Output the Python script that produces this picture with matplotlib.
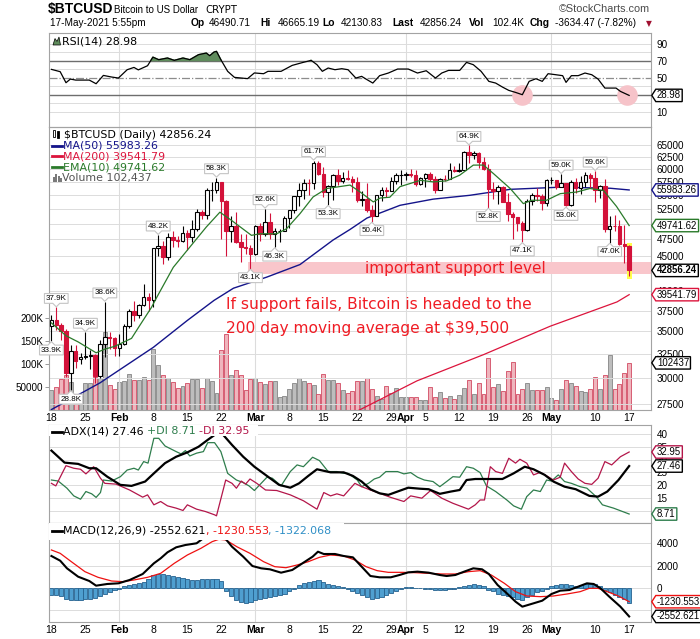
import numpy as np
import pandas as pd
import matplotlib
matplotlib.use("Agg")
import matplotlib.pyplot as plt
from matplotlib import font_manager
from matplotlib.path import Path
from matplotlib.patches import Rectangle, Polygon
from matplotlib.lines import Line2D
from matplotlib.ticker import FixedLocator, NullLocator, FuncFormatter
from matplotlib.transforms import blended_transform_factory

# ---------------- data ----------------
dates = pd.date_range("2021-01-18", "2021-05-17", freq="D")

# daily candles, thousands of USD
opens_k = [35.6, 36.3, 35.7, 35.1, 30.5, 32.8, 31.9, 32.2, 32.3, 32.4,
           30.2, 33.6, 34.4, 34.2, 33.1, 33.6, 35.6, 37.5, 36.9, 38.2,
           39.3, 38.8, 46.1, 46.5, 44.8, 47.9, 47.4, 47.2, 48.6, 47.9,
           49.2, 52.1, 51.6, 55.9, 56.0, 57.4, 54.0, 48.8, 49.7, 47.1,
           46.3, 46.2, 45.2, 49.6, 48.4, 50.4, 48.4, 48.8, 48.9, 51.0,
           52.3, 54.9, 55.9, 57.3, 57.2, 61.2, 59.0, 55.6, 56.8, 58.9,
           57.6, 58.3, 58.1, 57.4, 54.1, 54.3, 52.3, 51.3, 55.0, 55.9,
           55.8, 57.6, 58.8, 58.9, 59.0, 58.8, 57.1, 58.2, 59.1, 58.0,
           56.0, 58.1, 58.0, 59.8, 59.7, 59.9, 63.5, 62.9, 63.3, 61.5,
           60.1, 56.2, 55.7, 56.5, 53.8, 51.7, 51.1, 50.1, 49.0, 54.0,
           55.0, 54.9, 53.6, 57.8, 57.9, 56.6, 57.2, 53.2, 57.5, 56.4,
           57.4, 58.9, 58.3, 55.9, 56.7, 49.1, 49.7, 49.6, 46.8, 46.49071]
highs_k = [36.9, 37.9, 36.0, 35.3, 33.5, 33.4, 32.6, 34.9, 32.9, 32.5,
           34.0, 38.6, 34.9, 34.3, 34.7, 35.9, 37.7, 38.7, 38.3, 40.9,
           39.7, 46.2, 48.2, 47.3, 48.5, 48.9, 48.1, 49.7, 49.0, 50.6,
           52.5, 52.4, 56.3, 57.5, 58.3, 57.5, 54.2, 51.3, 52.0, 48.3,
           48.3, 46.6, 49.8, 50.2, 52.6, 51.8, 49.4, 49.2, 51.4, 52.4,
           54.9, 57.2, 58.1, 58.0, 61.7, 61.6, 60.5, 56.9, 59.0, 60.0,
           59.4, 59.8, 58.6, 58.4, 55.8, 57.2, 53.2, 55.1, 56.6, 56.6,
           58.4, 59.3, 59.8, 59.5, 60.0, 59.8, 58.5, 59.2, 59.5, 58.6,
           58.3, 58.8, 61.3, 60.7, 61.2, 63.8, 64.9, 63.8, 63.6, 62.5,
           61.0, 57.5, 57.0, 56.8, 55.4, 52.1, 51.2, 50.5, 54.3, 55.4,
           56.4, 55.2, 58.0, 58.4, 57.9, 59.0, 57.2, 57.8, 58.3, 58.6,
           59.5, 59.2, 59.6, 57.0, 58.0, 51.3, 51.5, 50.6, 49.8, 46.66519]
lows_k = [33.9, 35.2, 34.0, 30.1, 28.8, 31.0, 31.4, 31.9, 30.9, 29.5,
          30.0, 32.1, 33.0, 32.3, 32.3, 33.4, 35.4, 36.2, 36.6, 38.1,
          37.4, 37.9, 45.0, 43.8, 44.3, 46.3, 46.3, 47.1, 45.8, 47.1,
          48.9, 50.9, 50.8, 54.0, 55.5, 47.6, 45.0, 47.1, 46.9, 44.1,
          45.2, 43.1, 45.1, 47.2, 48.1, 47.6, 46.3, 47.1, 48.9, 49.3,
          51.9, 53.1, 54.3, 55.1, 56.1, 58.9, 54.6, 53.3, 54.1, 57.0,
          57.3, 57.9, 55.6, 53.7, 53.0, 52.0, 50.4, 51.3, 53.9, 54.7,
          55.8, 57.1, 56.9, 57.9, 58.5, 56.8, 57.0, 56.5, 57.7, 55.5,
          55.9, 57.7, 58.0, 59.5, 59.4, 59.9, 61.3, 62.0, 60.2, 59.8,
          52.8, 54.3, 53.5, 53.7, 50.5, 47.6, 48.9, 47.1, 48.9, 53.3,
          53.9, 52.4, 53.1, 57.1, 56.1, 56.6, 53.0, 53.1, 55.4, 55.3,
          56.6, 56.3, 53.7, 54.5, 48.7, 47.0, 48.8, 46.6, 43.9, 42.13083]
closes_k = [36.3, 35.7, 35.1, 30.5, 32.8, 31.7, 32.2, 32.3, 32.4, 30.2,
            33.6, 34.4, 34.2, 33.1, 33.6, 35.6, 37.5, 36.9, 38.2, 39.3,
            38.8, 46.1, 46.5, 44.8, 47.9, 47.4, 47.2, 48.6, 47.9, 49.2,
            52.1, 51.6, 55.9, 56.0, 57.4, 54.0, 48.8, 49.7, 47.1, 46.3,
            46.2, 45.2, 49.6, 48.4, 50.4, 48.4, 48.8, 48.9, 51.0, 52.3,
            54.9, 55.9, 57.3, 57.2, 61.2, 59.0, 55.6, 56.8, 58.9, 57.6,
            58.3, 58.1, 57.4, 54.1, 54.3, 52.3, 51.3, 55.0, 55.9, 55.8,
            57.6, 58.8, 58.9, 59.0, 58.8, 57.1, 58.2, 59.1, 58.0, 56.0,
            58.1, 58.0, 59.8, 59.7, 59.9, 63.5, 62.9, 63.3, 61.5, 60.1,
            56.2, 55.7, 56.5, 53.8, 51.7, 51.1, 50.1, 49.0, 54.0, 55.0,
            54.9, 53.6, 57.8, 57.9, 56.6, 57.2, 53.2, 57.5, 56.4, 57.4,
            58.9, 58.3, 55.9, 56.7, 49.1, 49.7, 49.6, 46.8, 46.5, 42.85624]
volume_k = [43, 50, 68, 75, 60, 35, 30, 58, 58, 72,
            70, 170, 55, 45, 60, 62, 78, 66, 65, 72,
            65, 133, 97, 75, 70, 61, 48, 52, 58, 68,
            68, 48, 70, 62, 36, 130, 165, 75, 88, 75,
            44, 68, 70, 60, 57, 64, 64, 28, 30, 45,
            58, 70, 62, 59, 55, 35, 78, 65, 65, 58,
            44, 37, 42, 62, 64, 70, 45, 30, 24, 52,
            37, 47, 28, 28, 28, 28, 22, 21, 50, 28,
            39, 25, 30, 23, 32, 47, 65, 35, 58, 35,
            113, 50, 57, 42, 85, 105, 35, 45, 59, 44,
            44, 44, 50, 25, 22, 45, 65, 58, 52, 42,
            40, 45, 72, 45, 75, 120, 45, 56, 80, 102.437]

# overlays, sampled as (day offset from Jan 18, value)
ema10_days = [0, 3, 5.5, 9.2, 11, 13, 16.5, 18.2, 20.6, 21.7, 25.1, 28.5, 31.9, 34.7, 37.1,
              41.2, 42.9, 46.4, 48.4, 51.2, 53.9, 56.7, 61.5, 63.6, 66.3, 67.7, 69.7, 71.8,
              76, 78.7, 81.4, 84.1, 86.9, 89, 91, 94.5, 97.2, 98.9, 102, 104.8, 108.2, 110.9,
              113.7, 116.4, 119]
ema10_k = [36.0, 34.5, 33.8, 32.6, 33.0, 33.3, 34.2, 35.7, 37.9, 39.2, 43.3, 46.3, 49.5, 52.0, 50.6,
           48.15, 48.4, 48.4, 49.2, 51.75, 54.7, 56.25, 56.9, 55.6, 53.8, 54.5, 54.65, 56.6,
           57.8, 57.5, 57.7, 58.8, 60.8, 60.8, 59.15, 56.25, 53.5, 54.1, 54.1, 55.3, 55.6, 56.25,
           55.9, 53.0, 49.74162]
ma50_days = [0, 10, 21, 28, 33.5, 37.5, 44.3, 51.2, 58, 61.5, 65, 71.8, 78.6, 86.2, 94.5, 104.8,
             115.1, 119]
ma50_k = [27.0, 29.5, 33.2, 36.3, 38.8, 40.4, 41.9, 43.7, 47.4, 49.1, 51.0, 53.2, 54.3, 55.0, 56.1,
          56.5, 56.3, 55.98326]
ma200_days = [60, 63.4, 75.3, 89, 102.7, 116.5, 119]
ma200_k = [26.3, 26.95, 29.7, 32.4, 35.6, 38.6, 39.54179]

rsi_days = [0, 1.8, 3.0, 3.9, 5.0, 7.8, 9.2, 10.7, 12.4, 13.8, 15.6, 17.0, 17.9, 19.8, 20.9, 22.1,
            23.9, 25.3, 27.1, 28.5, 30.3, 31.9, 32.6, 33.5, 34.0, 34.9, 36.3, 37.7, 40.4, 41.8,
            43.7, 44.6, 47.3, 49.6, 51.9, 53.5, 54.7, 55.8, 57.0, 58.4, 59.8, 61.1, 62.7, 63.9,
            64.8, 66.2, 67.6, 69.4, 71.3, 73.5, 75.4, 77.2, 79.1, 80.4, 81.8, 84.1, 85.5, 86.9,
            88.5, 90.1, 91.5, 92.9, 94.2, 95.6, 97.0, 98.4, 99.8, 101.1, 102.3, 103.9, 105.3,
            106.0, 107.1, 108.5, 109.9, 111.3, 112.6, 114.0, 116.3, 117.2, 119]
rsi_vals = [59.6, 56.9, 43.9, 48.2, 47, 47, 42.7, 52.5, 50.6, 49.4, 59.2, 61.9, 59, 63.9, 74, 71,
            73, 70.2, 73, 71, 76.9, 78.8, 75.7, 80, 80.8, 71, 57.3, 50.2, 48.7, 55.4,
            54.5, 57.3, 57.3, 64.3, 67.9, 70.2, 65.1, 57.3, 61.2, 59.2, 60.4, 59.2, 49.4, 51.4,
            48.2, 43.5, 52.2, 55.3, 60, 60, 55.3, 58, 49.4, 55.3, 58.4, 58.4, 67.8, 65.1,
            57.3, 45.5, 43.5, 38.8, 34.9, 32.5, 29.8, 45.5, 48.6, 45.5, 54.5, 53.3, 52.2,
            44.3, 52.2, 52.2, 55.3, 53.3, 48.2, 37.6, 37.6, 33.7, 28.98]
rsi_circle_days = [97, 118.6]
rsi_circle_vals = [30, 29.5]

adx_days = [0, 2.7, 5.5, 7.8, 9.2, 11.5, 14.2, 16.5, 19.3, 21.1, 23.4, 25.7, 28.0, 30.3, 32.2, 33.6,
            34.5, 35.4, 37.2, 39.5, 41.8, 44.6, 46.9, 49.2, 51.0, 52.9, 54.7, 57.5, 60.2, 62.1,
            63.9, 65.7, 67.6, 69.4, 71.3, 73.5, 75.9, 77.7, 80.0, 82.3, 84.1, 85.5, 87.3, 89.6,
            92.9, 95.2, 97.5, 99.3, 101.6, 103.4, 105.7, 108.0, 110.8, 112.6, 114.5, 116.8, 119]
adx_vals = [33.5, 28.8, 28.3, 26.6, 26.6, 23.3, 20.1, 19.7, 21.4, 24.6, 28.6, 31.1, 32.8, 35, 37.7, 39.6,
            41.5, 39.6, 35.7, 31.1, 27.2, 23.3, 20.1, 19, 20.7, 23.6, 26.2, 25, 25, 23.6,
            21.4, 18.4, 16.8, 16.2, 17.5, 19, 18.6, 18.4, 16.6, 17.5, 18.1, 22, 22.4, 22.4,
            22.4, 24.6, 27.2, 26.2, 24, 21.4, 19.4, 18.4, 15.8, 15.5, 17.5, 22, 27.46]
pdi_days = [0, 1.4, 3.2, 4.6, 6.0, 7.1, 8.3, 9.2, 10.1, 10.7, 12.4, 14.2, 15.6, 17.0, 17.9, 19.0,
            19.9, 21.1, 22.1, 23.4, 25.7, 26.7, 27.6, 28.5, 29.9, 31.3, 32.2, 33.6, 34.9, 36.3,
            38.1, 39.5, 40.7, 41.8, 43.2, 44.4, 45.5, 47.3, 49.2, 50.6, 51.9, 53.8, 55.2, 57.0,
            58.8, 60.2, 61.1, 63.0, 63.9, 65.3, 66.5, 67.6, 68.9, 71.3, 72.6, 74.0, 75.4, 76.8,
            78.6, 80.0, 81.4, 82.7, 84.1, 85.5, 86.9, 88.3, 89.6, 91.5, 93.8, 95.2, 96.8, 97.9,
            99.3, 100.7, 102.0, 103.0, 104.4, 105.7, 107.1, 108.9, 110.3, 112.2, 113.5, 115.8, 119]
pdi_vals = [22, 21.6, 18.8, 15.8, 14.5, 17.5, 16.6, 15.2, 17.1, 22, 21.6, 23.3, 25.9, 26.6, 25.9, 29.2,
            28.6, 38.3, 38.3, 35.3, 33.1, 32.2, 33.5, 31.4, 32.5, 33.1, 36.6, 36.6, 33.1, 24.6,
            22, 21, 19.7, 17.9, 20.7, 23.1, 22.7, 19.7, 25.3, 27.9, 27.2, 30.9, 29.6, 25.3,
            25.3, 24.6, 24.6, 22, 19.4, 20.7, 22.4, 23.1, 25.3, 25.3, 24.4, 24.9, 23.1, 22,
            21.4, 19.4, 21.4, 23.3, 23.1, 27.2, 26.6, 24.9, 19.7, 17.5, 14.2, 11.9, 10.6, 15.5,
            18.1, 17.5, 22, 21.6, 24, 21.4, 20.7, 19.4, 18.8, 15.5, 12.3, 11, 8.71]
mdi_days = [0, 0.9, 3.0, 4.6, 6.0, 7.1, 8.7, 10.1, 11.0, 13.3, 16.1, 18.8, 19.8, 21.1, 22.5, 23.9,
            25.7, 27.1, 28.0, 29.9, 31.7, 33.6, 34.0, 35.9, 37.2, 38.1, 39.1, 40.0, 40.9, 42.3,
            44.1, 46.4, 49.2, 51.9, 54.7, 56.1, 57.5, 58.8, 60.2, 62.5, 63.9, 65.7, 67.6, 69.9,
            72.6, 74.0, 76.3, 78.1, 80.4, 82.7, 85.9, 87.3, 88.3, 89.2, 90.4, 91.5, 92.9, 94.2,
            95.6, 96.5, 97.9, 99.3, 100.7, 102.3, 103.4, 104.8, 105.7, 107.1, 108.5, 109.9, 111.3,
            112.6, 114.0, 115.4, 117.2, 119]
mdi_vals = [20.7, 19.7, 27.6, 26.6, 26.2, 24.4, 27.2, 22.7, 20.7, 20.4, 18.1, 15.3, 16.2, 12.3, 13.6, 11.9,
            11, 10.1, 12.3, 10.6, 9.7, 8.4, 8, 22, 20.7, 18.8, 21.6, 20.4, 22.4, 20.7,
            18.1, 17.9, 16.2, 13.9, 10.6, 17.1, 15.8, 16.6, 15.8, 20.7, 19.4, 18.1, 16.8, 15.2,
            13.6, 15.8, 14.9, 17.9, 14.9, 12.9, 10.6, 12.3, 14.2, 14.2, 27.2, 25.3, 24.6, 30.5,
            28.6, 30.1, 28.6, 24, 25, 23.3, 22, 23.1, 28.6, 25.3, 22.4, 20.7, 20.3,
            22.7, 29.2, 27.9, 31.1, 32.95]

macd_days = [0, 1.8, 3.2, 5.5, 7.8, 9.2, 11.5, 13.8, 16.1, 18.8, 21.1, 22.5, 23.9, 25.7, 27.6, 29.9,
             31.7, 33.6, 35.4, 37.2, 39.5, 41.4, 43.2, 45.0, 47.3, 49.6, 51.9, 53.8, 54.9, 56.1,
             58.4, 60.2, 62.1, 63.9, 65.7, 67.6, 69.9, 71.7, 73.5, 75.4, 77.7, 80.0, 81.4, 83.2,
             85.0, 86.9, 88.7, 90.1, 91.9, 93.8, 95.6, 97.0, 99.3, 101.1, 103.0, 104.8, 106.7,
             108.5, 110.3, 111.7, 113.1, 114.9, 117.2, 119]
macd_vals = [2870, 2450, 1765, 1015, 628, 209, 360, 420, 718, 1256, 2213, 2660, 3200, 3650, 3857, 4010,
             4600, 5000, 4660, 3700, 2810, 1973, 1765, 1676, 1375, 1615, 2270, 2810, 3256, 3050,
             3050, 2870, 2750, 1914, 1076, 958, 958, 1166, 1404, 1465, 1375, 1166, 1076, 1166,
             1465, 1765, 1676, 1256, 270, -476, -1225, -1675, -1375, -1137, -538, -240, -180,
             120, 418, 360, -30, -776, -1675, -2552.621]
signal_days = [0, 1.8, 4.1, 6.9, 9.6, 12.4, 14.7, 17.0, 19.8, 22.5, 25.3, 28.0, 30.8, 33.1, 34.5,
               35.9, 38.2, 40.9, 43.7, 46.0, 48.3, 50.6, 52.9, 55.2, 57.5, 60.2, 62.5, 64.8, 67.1,
               69.4, 72.2, 74.9, 77.7, 80.4, 83.2, 85.9, 88.3, 90.6, 93.3, 95.6, 97.9, 100.7, 103.4,
               106.2, 108.9, 110.8, 112.6, 114.5, 116.8, 119]
signal_vals = [3410, 3110, 2360, 1465, 958, 628, 568, 718, 958, 1315, 2213, 2960, 3560, 4155, 4370,
               4310, 3700, 3110, 2360, 1914, 1820, 2063, 2360, 2750, 2960, 2870, 2510, 1914, 1555,
               1404, 1404, 1375, 1315, 1256, 1256, 1465, 1555, 1166, 418, -330, -718, -776, -718,
               -538, -330, -30, -30, -330, -718, -1230.553]
macd_hist = [-600, -650, -700, -1000, -1100, -1100, -1050, -1000, -950, -900,
             -700, -500, -350, -200, -100, 150, 250, 350, 450, 550,
             800, 1150, 1220, 1280, 1200, 1120, 1000, 900, 780, 700,
             720, 800, 840, 840, 820, 600, -300, -700, -1050, -1250,
             -1350, -1250, -1100, -950, -870, -800, -750, -620, -500, -300,
             -100, 240, 450, 540, 600, 750, 560, 350, 240, 150,
             100, -100, -250, -450, -660, -850, -1010, -900, -800, -660,
             -450, -300, -100, 60, 90, 40, -30, -60, -80, -150,
             -200, -180, -120, -60, 60, 200, 300, 390, 300, 150,
             -150, -300, -500, -650, -750, -850, -960, -1050, -850, -650,
             -400, -270, -100, 200, 300, 390, 330, 250, 220, 280,
             330, 390, 350, 200, -200, -400, -650, -800, -957, -1322.068]

# swing labels: candle index and whether it marks a high or a low
label_days = [1, 7, 11, 22, 34, 44, 54, 86, 105, 112, 0, 4, 41, 46, 57, 66, 90, 97, 106, 115]
label_kind = ["H"] * 10 + ["L"] * 10

support_band_k = (42.39, 44.0)
support_start = pd.Timestamp("2021-02-28")

# ---------------- derived arrays ----------------
day = np.asarray((dates - dates[0]).days, dtype=float)
o = np.array(opens_k) * 1000
h = np.array(highs_k) * 1000
l = np.array(lows_k) * 1000
c = np.array(closes_k) * 1000
vol = np.array(volume_k) * 1000
up = c >= o

# ---------------- style ----------------
GRID = "#dcdcdc"
FRAME = "#a3a3a3"
RED = "#d3123a"
NAVY = "#14148a"
CRIMSON = "#dc143c"
GREEN = "#2a7a2a"
PDI = "#2e7d4c"
MDI = "#b3164a"
SIG = "#ee1111"
HIST = "#4f9fd0"
HIST_EDGE = "#25628f"
NOTE = "#f01c24"
SANS = "Liberation Sans"
names = {f.name for f in font_manager.fontManager.ttflist}
NARROW = "Liberation Sans Narrow" if "Liberation Sans Narrow" in names else SANS

fig = plt.figure(figsize=(7, 6.39), dpi=100)
W, H = 700, 639


def px(x, y):
    return x / W, 1 - y / H


month_days = [d for d, dt in zip(day, dates) if dt.day == 1]
tick_pos, tick_lab = [], []
for d, dt in zip(day, dates):
    if dt.day == 1:
        tick_pos.append(d)
        tick_lab.append(dt.strftime("%b"))
    elif dt.weekday() == 0 and dt.day > 3:
        tick_pos.append(d)
        tick_lab.append(str(dt.day))


def panel(top, bottom):
    a = fig.add_axes([49 / W, 1 - bottom / H, 602 / W, (bottom - top) / H])
    a.set_xlim(-0.5, 123.5)
    for s in a.spines.values():
        s.set_color(FRAME)
        s.set_linewidth(0.8)
    a.yaxis.tick_right()
    a.tick_params(axis="y", length=0, labelsize=7.1, pad=4, labelfontfamily=SANS)
    a.tick_params(axis="x", length=0, labelsize=7.5, pad=2.5, labelfontfamily=SANS)
    for m in month_days:
        a.axvline(m, color=GRID, lw=0.8, zorder=0)
    a.set_xticks([])
    return a


def right_ticks(a, values, hidden, fmt="{:.0f}"):
    # every level gets a grid line; levels that sit under a value box get no label
    a.yaxis.set_major_locator(FixedLocator(values))
    a.yaxis.set_minor_locator(NullLocator())
    a.yaxis.set_major_formatter(FuncFormatter(lambda v, p: "" if v in hidden else fmt.format(v)))
    a.grid(axis="y", color=GRID, lw=0.7)
    a.set_axisbelow(True)


def date_ticks(a):
    a.set_xticks(tick_pos)
    a.set_xticklabels(tick_lab)
    for t in a.get_xticklabels():
        if not t.get_text().isdigit():
            t.set_fontweight("bold")


def tag_box(x0, y0, width, height, mutation_size):
    pad, tip = 1.2, 4.0
    x0, y0 = x0 - pad, y0 - pad
    x1, y1 = x0 + width + 2 * pad, y0 + height + 2 * pad
    ym = (y0 + y1) / 2
    return Path([(x0 - tip, ym), (x0, y1), (x1, y1), (x1, y0), (x0, y0), (x0 - tip, ym)],
                [Path.MOVETO] + [Path.LINETO] * 4 + [Path.CLOSEPOLY])


def callout_box(pointing_down):
    def style(x0, y0, width, height, mutation_size):
        pad, n = 1.4, 3.5
        x0, y0 = x0 - pad, y0 - pad
        x1, y1 = x0 + width + 2 * pad, y0 + height + 2 * pad
        xm = (x0 + x1) / 2
        if pointing_down:
            v = [(x0, y0), (xm - n, y0), (xm, y0 - n), (xm + n, y0), (x1, y0), (x1, y1), (x0, y1), (x0, y0)]
        else:
            v = [(x0, y1), (xm - n, y1), (xm, y1 + n), (xm + n, y1), (x1, y1), (x1, y0), (x0, y0), (x0, y1)]
        return Path(v, [Path.MOVETO] + [Path.LINETO] * 6 + [Path.CLOSEPOLY])
    return style


def marker(a, val, text, color, bold=False, trans=None):
    a.annotate(text, xy=(1, val), xycoords=trans or a.get_yaxis_transform(),
               xytext=(6.0 / 1.389, 0), textcoords="offset points", ha="left", va="center",
               fontsize=6.9, family=SANS, fontweight="bold" if bold else "normal",
               bbox=dict(boxstyle=tag_box, fc="white", ec=color, lw=1.0),
               annotation_clip=False, zorder=20)


# ---------------- RSI ----------------
ax_rsi = panel(33, 127)
ax_rsi.set_ylim(-8.2, 102.4)
ax_rsi.set_yticks([10, 30, 50, 70, 90])
ax_rsi.set_yticklabels(["10", "", "50", "70", "90"])
for g in [10, 20, 40, 60, 80, 90]:
    ax_rsi.axhline(g, color=GRID, lw=0.7, zorder=0)
ax_rsi.axhline(70, color="#6e6e6e", lw=1.0, zorder=1)
ax_rsi.axhline(30, color="#6e6e6e", lw=1.0, zorder=1)
ax_rsi.axhline(50, color="#8c8c8c", lw=0.9, ls="-.", zorder=1)
ax_rsi.scatter(rsi_circle_days, rsi_circle_vals, s=220, color="#f6c3c9", zorder=1, lw=0)
rv = np.array(rsi_vals)
ax_rsi.fill_between(rsi_days, rv, 70, where=rv >= 70, interpolate=True, color="#5f8c5c", zorder=2)
ax_rsi.plot(rsi_days, rv, color="black", lw=0.9, zorder=3)
marker(ax_rsi, rsi_vals[-1], f"{rsi_vals[-1]:.2f}", "black")

# ---------------- price + volume ----------------
ax = panel(127, 410)
axv = ax.twinx()
ax.set_zorder(2)
axv.set_zorder(1)
ax.patch.set_visible(False)
ax.yaxis.tick_right()
axv.yaxis.tick_left()
for s in axv.spines.values():
    s.set_visible(False)

ax.set_yscale("log")
ax.set_ylim(26960, 69000)
right_ticks(ax, np.arange(27500, 65001, 2500), hidden={50000, 42500})
date_ticks(ax)

axv.set_ylim(0, 615000)
axv.set_yticks([50000, 100000, 150000, 200000])
axv.set_yticklabels(["50000", "100K", "150K", "200K"])
axv.tick_params(axis="y", length=3, width=0.6, color="#8a8a8a", labelsize=7.1, pad=1,
                labelfontfamily=SANS)
axv.bar(day, vol, width=0.82, color=np.where(up, "#bdbdbd", "#efb5bd"),
        edgecolor=np.where(up, "#858585", "#d24a62"), lw=0.6)

# support band + highlight of the last candle
ax.add_patch(Rectangle(((support_start - dates[0]).days - 0.5, support_band_k[0] * 1000),
                       130, (support_band_k[1] - support_band_k[0]) * 1000,
                       color="#f9c6cb", lw=0, zorder=1))
ax.add_patch(Rectangle((day[-1] - 0.5, l[-1] * 0.99), 1.0, h[-1] * 1.005 - l[-1] * 0.99,
                       color="#ffff4d", lw=0, zorder=2))

ax.plot(ma200_days, np.array(ma200_k) * 1000, color=CRIMSON, lw=0.9, zorder=3)
ax.plot(ma50_days, np.array(ma50_k) * 1000, color=NAVY, lw=1.0, zorder=3)
ax.vlines(day, l, h, colors=np.where(up, "black", RED), lw=0.8, zorder=4)
ax.bar(day, np.maximum(np.abs(c - o), 40), bottom=np.minimum(o, c), width=0.72,
       color=np.where(up, "white", RED), edgecolor=np.where(up, "black", RED), lw=0.8, zorder=5)
ax.plot(ema10_days, np.array(ema10_k) * 1000, color=GREEN, lw=0.9, zorder=6)

for d, kind in zip(label_days, label_kind):
    price = h[d] if kind == "H" else l[d]
    down = kind == "H"
    ax.annotate(f"{price / 1000:.1f}K", xy=(day[d], price), xytext=(0, (5.5 if down else -5.5) / 1.389),
                textcoords="offset points", ha="center", va="bottom" if down else "top",
                fontsize=5.8, family=SANS,
                bbox=dict(boxstyle=callout_box(down), fc="white", ec="#c4c4c4", lw=0.8),
                annotation_clip=False, zorder=8)

marker(ax, ma50_k[-1] * 1000, f"{ma50_k[-1] * 1000:.2f}", NAVY)
marker(ax, ema10_k[-1] * 1000, f"{ema10_k[-1] * 1000:.2f}", GREEN)
marker(ax, ma200_k[-1] * 1000, f"{ma200_k[-1] * 1000:.2f}", CRIMSON)
marker(ax, c[-1], f"{c[-1]:.2f}", "black", bold=True)
marker(ax, vol[-1], f"{vol[-1]:.0f}", "black",
       trans=blended_transform_factory(ax.transAxes, axv.transData))

# ---------------- ADX ----------------
ax_adx = panel(425, 523)
ax_adx.set_ylim(5.2, 43.5)
right_ticks(ax_adx, list(range(10, 41, 5)), hidden={10})
ax_adx.plot(pdi_days, pdi_vals, color=PDI, lw=0.9, zorder=3)
ax_adx.plot(mdi_days, mdi_vals, color=MDI, lw=0.9, zorder=3)
ax_adx.plot(adx_days, adx_vals, color="black", lw=1.6, zorder=4)
ax_adx.add_patch(Rectangle((0, 0.89), 0.348, 0.12, transform=ax_adx.transAxes,
                           color="white", lw=0, zorder=6))
marker(ax_adx, mdi_vals[-1], f"{mdi_vals[-1]:.2f}", MDI)
marker(ax_adx, adx_vals[-1], f"{adx_vals[-1]:.2f}", "black")
marker(ax_adx, pdi_vals[-1], f"{pdi_vals[-1]:.2f}", PDI)

# ---------------- MACD ----------------
ax_m = panel(523, 622)
ax_m.set_ylim(-3050, 5830)
right_ticks(ax_m, [-2000, 0, 2000, 4000], hidden={-2000})
date_ticks(ax_m)
ax_m.bar(day, macd_hist, width=0.85, color=HIST, edgecolor=HIST_EDGE, lw=0.6, zorder=2)
ax_m.plot(signal_days, signal_vals, color=SIG, lw=0.9, zorder=3)
ax_m.plot(macd_days, macd_vals, color="black", lw=1.5, zorder=4)
ax_m.add_patch(Rectangle((0, 0.83), 0.49, 0.17, transform=ax_m.transAxes,
                         color="white", lw=0, zorder=6))
marker(ax_m, signal_vals[-1], f"{signal_vals[-1]:.3f}", SIG)
marker(ax_m, macd_vals[-1], f"{macd_vals[-1]:.3f}", "black")

# ---------------- header ----------------
fig.text(*px(48, 9.5), "$BTCUSD", fontsize=11 if NARROW != SANS else 10, fontweight="bold",
         family=NARROW, va="center")
fig.text(*px(114, 10), "Bitcoin to US Dollar", fontsize=8.3 if NARROW != SANS else 7.0,
         family=NARROW, va="center")
fig.text(*px(205, 10), "CRYPT", fontsize=7.3, family="DejaVu Sans", va="center")
fig.text(*px(650, 9.5), "\u00a9StockCharts.com", fontsize=7.8, family=SANS, color="#4a4a4a",
         ha="right", va="center")
fig.text(*px(50, 23), "17-May-2021 5:55pm", fontsize=7.2, family=SANS, va="center")
quote = [(191, "Op", True), (209, "46490.71", False), (260, "Hi", True), (278, "46665.19", False),
         (322, "Lo", True), (341, "42130.83", False), (392, "Last", True), (420, "42856.24", False),
         (469, "Vol", True), (492, "102.4K", False), (530, "Chg", True),
         (555, "-3634.47 (-7.82%)", False)]
for x, s, b in quote:
    fig.text(*px(x, 23), s, fontsize=7.4 if b else 7.2, family=SANS,
             fontweight="bold" if b else "normal", va="center")
fig.text(*px(646, 23.5), "\u25bc", fontsize=5.5, family="DejaVu Sans", color="#a01030", va="center")

renderer = fig.canvas.get_renderer()


def chain(x, y, parts, size=7.9):
    for s, col in parts:
        t = fig.text(*px(x, y), s, color=col, fontsize=size, family="DejaVu Sans", va="center",
                     zorder=10)
        x = t.get_window_extent(renderer).x1


def swatch(x0, x1, y, color, lw):
    fig.add_artist(Line2D([x0 / W, x1 / W], [1 - y / H] * 2, transform=fig.transFigure,
                          color=color, lw=lw, zorder=10))


def fig_poly(points, **kw):
    fig.add_artist(Polygon([px(*p) for p in points], closed=True, transform=fig.transFigure,
                           zorder=10, **kw))


# RSI legend
fig_poly([(53, 45), (55, 38.5), (57, 41.5), (59, 37), (60.5, 45)], fc="#5f8c5c", ec="black", lw=0.5)
chain(62, 41, [(f"RSI(14) {rsi_vals[-1]:.2f}", "black")])

# price legend
fig_poly([(53, 130), (55, 130), (55, 137), (53, 137)], fc="white", ec="black", lw=0.6)
fig_poly([(57, 131), (59, 131), (59, 138), (57, 138)], fc="black", ec="black", lw=0.6)
chain(64, 134.5, [(f"$BTCUSD (Daily) {c[-1]:.2f}", "black")])
swatch(52, 62, 145.7, NAVY, 2.0)
chain(63, 145.7, [(f"MA(50) {ma50_k[-1] * 1000:.2f}", NAVY)])
swatch(52, 62, 156.3, CRIMSON, 2.0)
chain(63, 156.3, [(f"MA(200) {ma200_k[-1] * 1000:.2f}", CRIMSON)])
swatch(52, 62, 167.3, GREEN, 2.0)
chain(63, 167.3, [(f"EMA(10) {ema10_k[-1] * 1000:.2f}", GREEN)])
for bx, bh in [(52.5, 5), (55, 8), (57.5, 6), (60, 4)]:
    fig_poly([(bx, 182), (bx + 2, 182), (bx + 2, 182 - bh), (bx, 182 - bh)], fc="#7a7a7a", lw=0)
chain(62, 177.7, [(f"Volume {vol[-1]:,.0f}", "#555555")])

# ADX legend
swatch(52, 62, 431.5, "black", 2.0)
chain(63, 431.5, [(f"ADX(14) {adx_vals[-1]:.2f} ", "black"), (f"+DI {pdi_vals[-1]:.2f} ", PDI),
                  (f"-DI {mdi_vals[-1]:.2f}", MDI)])

# MACD legend
swatch(52, 62, 530.8, "black", 2.0)
chain(63, 530.8, [(f"MACD(12,26,9) {macd_vals[-1]:.3f}", "black"), (f", {signal_vals[-1]:.3f}", SIG),
                  (f", {macd_hist[-1]:.3f}", "#2f8fc6")])

# annotations
fig.text(*px(365, 273), "important support level", fontsize=11, family="DejaVu Sans", color=NOTE,
         va="baseline")
fig.text(*px(226, 309.5), "If support fails, Bitcoin is headed to the", fontsize=11.2,
         family="DejaVu Sans", color=NOTE, va="baseline")
fig.text(*px(226, 333), "200 day moving average at $39,500", fontsize=11.2, family="DejaVu Sans",
         color=NOTE, va="baseline")

fig.savefig("out.png", dpi=100)
